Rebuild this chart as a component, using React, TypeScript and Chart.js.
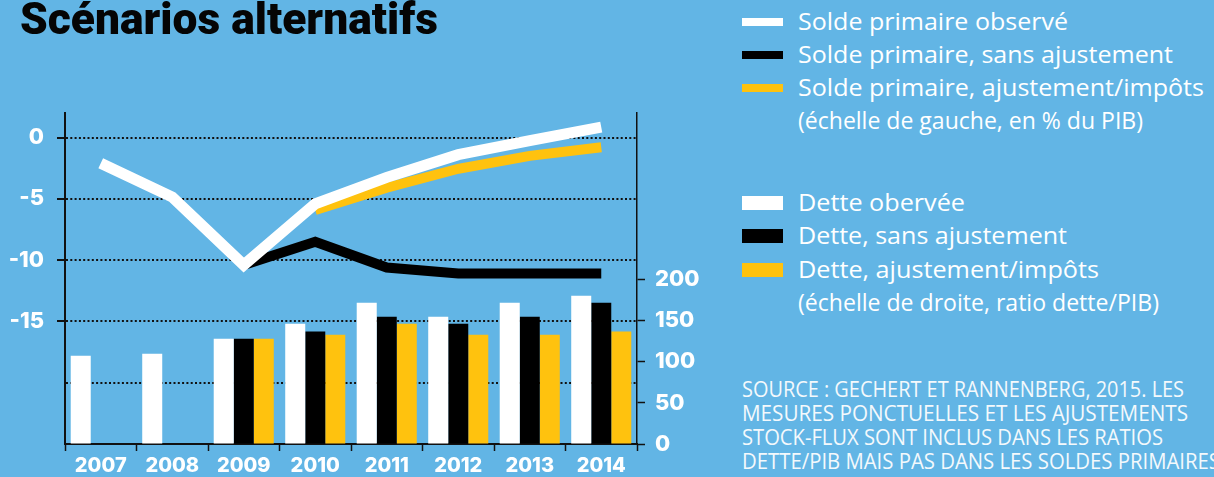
import React, { useEffect, useLayoutEffect, useRef } from 'react';
import { Chart, registerables } from 'chart.js';

Chart.register(...registerables);

// ---------- DATA ----------
const years = ['2007', '2008', '2009', '2010', '2011', '2012', '2013', '2014'];
// Left scale (% du PIB)
const soldeObserve = [-2.1, -4.85, -10.4, -5.4, -3.25, -1.4, -0.25, 0.85];
const soldeSansAjustement = [null, null, -10.4, -8.5, -10.6, -11.1, -11.1, -11.1];
const soldeAjustementImpots = [null, null, null, -5.9, -4.1, -2.55, -1.5, -0.8];
// Right scale (ratio dette/PIB)
const detteObservee = [107.5, 110, 128, 146.5, 172, 155, 172, 180.5];
const detteSansAjustement = [null, null, 128, 137, 155, 146.5, 155, 172];
const detteAjustementImpots = [null, null, 128, 133, 146.5, 133, 133, 137];
// Ticks
const leftTicks = [-20, -15, -10, -5, 0];
const leftLabelled = [-15, -10, -5, 0];
const rightTicks = [0, 50, 100, 150, 200];

const legendLines = [
  'Solde primaire observé',
  'Solde primaire, sans ajustement',
  'Solde primaire, ajustement/impôts',
  '(échelle de gauche, en % du PIB)',
];
const legendBars = [
  'Dette obervée',
  'Dette, sans ajustement',
  'Dette, ajustement/impôts',
  '(échelle de droite, ratio dette/PIB)',
];
const sourceLines = [
  'SOURCE : GECHERT ET RANNENBERG, 2015. LES',
  'MESURES PONCTUELLES ET LES AJUSTEMENTS',
  'STOCK-FLUX SONT INCLUS DANS LES RATIOS',
  'DETTE/PIB MAIS PAS DANS LES SOLDES PRIMAIRES',
];
const titleText = 'Scénarios alternatifs';

// ---------- STYLE ----------
const BG = '#62b5e5';
const WHITE = '#ffffff';
const BLACK = '#000000';
const YELLOW = '#ffc20e';
const AXIS = '#111111';

function Fit({ text, width, style }: { text: string; width: number; style: React.CSSProperties }) {
  const ref = useRef<HTMLSpanElement>(null);
  useLayoutEffect(() => {
    const el = ref.current;
    if (!el) return;
    const apply = () => {
      el.style.transform = 'none';
      const w = el.getBoundingClientRect().width;
      if (w > 0) el.style.transform = `scaleX(${width / w})`;
    };
    apply();
    const f: any = (document as any).fonts;
    if (f && f.ready) f.ready.then(apply);
  }, [text, width]);
  return (
    <span
      ref={ref}
      style={{ position: 'absolute', whiteSpace: 'nowrap', transformOrigin: '0 0', display: 'inline-block', ...style }}
    >
      {text}
    </span>
  );
}

export default function App() {
  const canvasRef = useRef<HTMLCanvasElement>(null);

  useLayoutEffect(() => {
    document.body.style.margin = '0';
    document.body.style.overflow = 'hidden';
  }, []);

  useEffect(() => {
    if (!canvasRef.current) return;
    const tickFont = { family: 'Inter', weight: '800' as any, size: 22 };
    const chart = new Chart(canvasRef.current, {
      type: 'bar',
      data: {
        labels: years,
        datasets: [
          {
            type: 'line',
            label: 'Solde primaire observé',
            data: soldeObserve,
            yAxisID: 'y',
            borderColor: WHITE,
            borderWidth: 11,
            pointRadius: 0,
            tension: 0,
            borderJoinStyle: 'miter',
            borderCapStyle: 'butt',
            order: 0,
          } as any,
          {
            type: 'line',
            label: 'Solde primaire, ajustement/impôts',
            data: soldeAjustementImpots,
            yAxisID: 'y',
            borderColor: YELLOW,
            borderWidth: 10,
            pointRadius: 0,
            tension: 0,
            borderJoinStyle: 'miter',
            borderCapStyle: 'butt',
            order: 1,
          } as any,
          {
            type: 'line',
            label: 'Solde primaire, sans ajustement',
            data: soldeSansAjustement,
            yAxisID: 'y',
            borderColor: BLACK,
            borderWidth: 10,
            pointRadius: 0,
            tension: 0,
            borderJoinStyle: 'miter',
            borderCapStyle: 'butt',
            order: 2,
          } as any,
          {
            type: 'bar',
            label: 'Dette obervée',
            data: detteObservee,
            yAxisID: 'y1',
            backgroundColor: WHITE,
            borderWidth: 0,
            order: 3,
          } as any,
          {
            type: 'bar',
            label: 'Dette, sans ajustement',
            data: detteSansAjustement,
            yAxisID: 'y1',
            backgroundColor: BLACK,
            borderWidth: 0,
            order: 4,
          } as any,
          {
            type: 'bar',
            label: 'Dette, ajustement/impôts',
            data: detteAjustementImpots,
            yAxisID: 'y1',
            backgroundColor: YELLOW,
            borderWidth: 0,
            order: 5,
          } as any,
        ],
      },
      options: {
        animation: false,
        responsive: false,
        maintainAspectRatio: false,
        layout: { padding: { top: 113, left: 0, right: 0, bottom: 0 } },
        datasets: { bar: { categoryPercentage: 0.84, barPercentage: 1 } } as any,
        plugins: {
          legend: { display: false },
          tooltip: { enabled: false },
          title: { display: false },
        },
        scales: {
          x: {
            type: 'category',
            offset: true,
            grid: {
              offset: true,
              drawOnChartArea: false,
              drawTicks: true,
              tickLength: 7,
              tickColor: AXIS,
              tickWidth: 1.5,
            },
            border: { display: true, color: AXIS, width: 2 },
            ticks: {
              color: WHITE,
              font: { family: 'Inter', weight: '800', size: 20 },
              padding: 3,
              maxRotation: 0,
              autoSkip: false,
            },
            afterFit: (s: any) => {
              s.height = 33;
            },
          } as any,
          y: {
            type: 'linear',
            position: 'left',
            min: -25,
            max: 2,
            afterBuildTicks: (s: any) => {
              s.ticks = leftTicks.map((v) => ({ value: v }));
            },
            afterFit: (s: any) => {
              s.width = 65;
            },
            grid: {
              color: AXIS,
              lineWidth: 2,
              drawTicks: true,
              tickLength: 8,
              tickWidth: 2,
              tickColor: (c: any) => (c.tick && leftLabelled.includes(c.tick.value) ? AXIS : 'rgba(0,0,0,0)'),
            },
            border: { display: true, color: AXIS, width: 2, dash: [2, 2.3] },
            ticks: {
              color: WHITE,
              font: tickFont,
              padding: 13,
              callback: (v: any) => (leftLabelled.includes(Number(v)) ? String(v) : ''),
            },
          } as any,
          y1: {
            type: 'linear',
            position: 'right',
            min: 0,
            max: 403,
            afterBuildTicks: (s: any) => {
              s.ticks = rightTicks.map((v) => ({ value: v }));
            },
            afterFit: (s: any) => {
              s.width = 63;
            },
            grid: {
              drawOnChartArea: false,
              drawTicks: true,
              tickLength: 8,
              tickWidth: 1.5,
              tickColor: AXIS,
            },
            border: { display: true, color: AXIS, width: 1.5 },
            ticks: {
              color: WHITE,
              font: tickFont,
              padding: 10,
              callback: (v: any) => String(v),
            },
          } as any,
        },
      },
    });
    return () => chart.destroy();
  }, []);

  const legendFont: React.CSSProperties = {
    fontFamily: '"Open Sans", sans-serif',
    fontSize: 24,
    lineHeight: '24px',
    color: WHITE,
  };
  const lineRowsY = [22.2, 55.1, 88, 121];
  const barRowsY = [202.8, 236.2, 269.5, 302.5];
  const lineWidths = [270, 375, 406, 345];
  const barWidths = [167, 269, 301, 361];
  const lineSwatch = [WHITE, BLACK, YELLOW];
  const barSwatch = [WHITE, BLACK, YELLOW];
  const sourceY = [390.5, 414.5, 438.5, 462.5];
  const sourceW = [442, 446, 421, 478];

  return (
    <div style={{ position: 'relative', width: 1214, height: 477, background: BG, overflow: 'hidden' }}>
      <canvas ref={canvasRef} width={700} height={477} style={{ position: 'absolute', left: 0, top: 0, width: 700, height: 477 }} />
      <Fit
        text={titleText}
        width={418}
        style={{
          left: 20,
          top: -3,
          fontFamily: 'Roboto, sans-serif',
          fontWeight: 900,
          fontSize: 44,
          lineHeight: '44px',
          color: '#050505',
        }}
      />
      {lineSwatch.map((c, i) => (
        <div key={'ls' + i} style={{ position: 'absolute', left: 742, top: lineRowsY[i] - 4, width: 41, height: 8, background: c }} />
      ))}
      {barSwatch.map((c, i) => (
        <div key={'bs' + i} style={{ position: 'absolute', left: 742, top: barRowsY[i] - 7, width: 41, height: 14, background: c }} />
      ))}
      {legendLines.map((t, i) => (
        <Fit key={'lt' + i} text={t} width={lineWidths[i]} style={{ ...legendFont, left: 798, top: lineRowsY[i] - 12.75 }} />
      ))}
      {legendBars.map((t, i) => (
        <Fit key={'bt' + i} text={t} width={barWidths[i]} style={{ ...legendFont, left: 798, top: barRowsY[i] - 12.75 }} />
      ))}
      {sourceLines.map((t, i) => (
        <Fit
          key={'src' + i}
          text={t}
          width={sourceW[i]}
          style={{
            fontFamily: '"Open Sans", sans-serif',
            fontSize: 21,
            lineHeight: '21px',
            color: '#f4f9fc',
            left: 742,
            top: sourceY[i] - 11.15,
          }}
        />
      ))}
    </div>
  );
}
